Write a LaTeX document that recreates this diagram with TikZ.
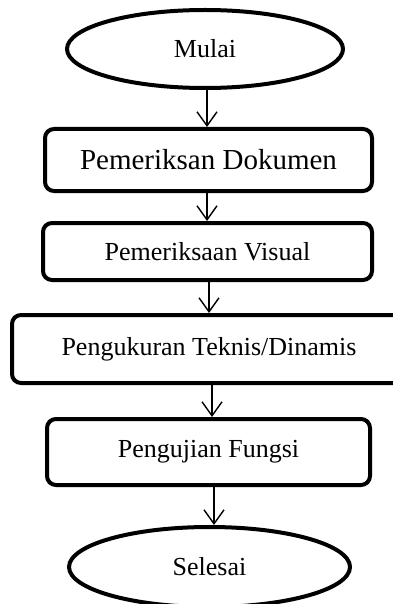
\documentclass[tikz,border=0pt]{standalone}
\usepackage{fontspec}
\setmainfont{Liberation Serif}
\usetikzlibrary{shapes.geometric,arrows.meta}
\tikzset{
  x=1pt,y=-1pt,
  term/.style={ellipse,draw,line width=4pt,inner sep=0pt,font=\fontsize{26pt}{30pt}\selectfont},
  procbox/.style={rectangle,rounded corners=9pt,draw,line width=4pt,inner sep=0pt,font=\fontsize{26pt}{30pt}\selectfont},
  arr/.style={line width=1.4pt,-{Straight Barb[length=14pt,width=20pt,line width=1.4pt]}}
}
\begin{document}
\begin{tikzpicture}
\useasboundingbox (0,0) rectangle (392,604);
\node[term,minimum width=276pt,minimum height=78pt] (m) at (205,49) {Mulai};
\node[procbox,minimum width=327pt,minimum height=62pt,font=\fontsize{29pt}{33pt}\selectfont] (b1) at (208.5,160) {Pemeriksan Dokumen};
\node[procbox,minimum width=329pt,minimum height=57pt] (b2) at (207.5,251.5) {Pemeriksaan Visual};
\node[procbox,minimum width=394pt,minimum height=68pt] (b3) at (209,349) {Pengukuran Teknis/Dinamis};
\node[procbox,minimum width=323pt,minimum height=66pt] (b4) at (208.5,452) {Pengujian Fungsi};
\node[term,minimum width=281pt,minimum height=80pt] (s) at (209.5,567) {Selesai};
\coordinate (a1) at (207,0);
\coordinate (a2) at (207,0);
\coordinate (a3) at (209,0);
\coordinate (a4) at (212,0);
\coordinate (a5) at (214,0);
\draw[arr] (a1 |- m.south) -- (a1 |- b1.north);
\draw[arr] (a2 |- b1.south) -- (a2 |- b2.north);
\draw[arr] (a3 |- b2.south) -- (a3 |- b3.north);
\draw[arr] (a4 |- b3.south) -- (a4 |- b4.north);
\draw[arr] (a5 |- b4.south) -- (a5 |- s.north);
\end{tikzpicture}
\end{document}
